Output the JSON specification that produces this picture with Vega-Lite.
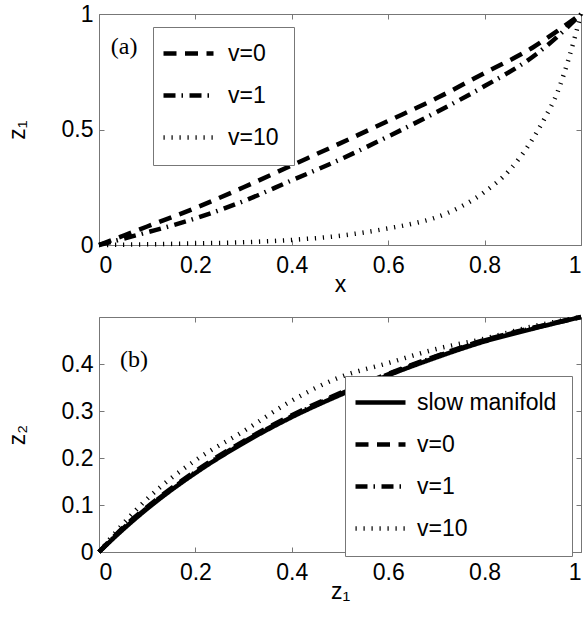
{
  "$schema": "https://vega.github.io/schema/vega-lite/v6.json",
  "background": "white",
  "padding": {"left": 5, "top": 2, "right": 0, "bottom": 0},
  "spacing": 72,
  "bounds": "flush",
  "config": {
    "font": "Liberation Sans",
    "view": {"stroke": "#777", "strokeWidth": 1},
    "axis": {
      "domain": false,
      "grid": false,
      "ticks": true,
      "tickSize": -5,
      "tickColor": "#777",
      "labelFont": "Liberation Sans",
      "labelFontSize": 23,
      "labelColor": "black",
      "titleFont": "Liberation Sans",
      "titleFontSize": 23,
      "titleFontWeight": "normal",
      "titleColor": "black"
    },
    "legend": {
      "orient": "none",
      "symbolType": "M-10,0H10",
      "symbolSize": 25,
      "symbolStrokeWidth": 4.5,
      "symbolStrokeColor": "black",
      "symbolOffset": 9,
      "labelFont": "Liberation Sans",
      "labelFontSize": 23,
      "labelColor": "black",
      "fillColor": "white",
      "strokeColor": "#777",
      "padding": 15,
      "rowPadding": 18
    }
  },
  "datasets": {
    "profiles": [
      {"x": 0, "z": 0, "v": "v=0"},
      {"x": 0.1, "z": 0.08, "v": "v=0"},
      {"x": 0.2, "z": 0.16, "v": "v=0"},
      {"x": 0.3, "z": 0.25, "v": "v=0"},
      {"x": 0.4, "z": 0.345, "v": "v=0"},
      {"x": 0.5, "z": 0.44, "v": "v=0"},
      {"x": 0.6, "z": 0.537, "v": "v=0"},
      {"x": 0.7, "z": 0.635, "v": "v=0"},
      {"x": 0.8, "z": 0.745, "v": "v=0"},
      {"x": 0.9, "z": 0.855, "v": "v=0"},
      {"x": 0.95, "z": 0.925, "v": "v=0"},
      {"x": 1, "z": 1, "v": "v=0"},
      {"x": 0, "z": 0, "v": "v=1"},
      {"x": 0.1, "z": 0.055, "v": "v=1"},
      {"x": 0.2, "z": 0.115, "v": "v=1"},
      {"x": 0.3, "z": 0.19, "v": "v=1"},
      {"x": 0.4, "z": 0.28, "v": "v=1"},
      {"x": 0.5, "z": 0.37, "v": "v=1"},
      {"x": 0.6, "z": 0.47, "v": "v=1"},
      {"x": 0.7, "z": 0.575, "v": "v=1"},
      {"x": 0.8, "z": 0.688, "v": "v=1"},
      {"x": 0.9, "z": 0.815, "v": "v=1"},
      {"x": 0.95, "z": 0.9, "v": "v=1"},
      {"x": 1, "z": 1, "v": "v=1"},
      {"x": 0, "z": 0, "v": "v=10"},
      {"x": 0.1, "z": 0.003, "v": "v=10"},
      {"x": 0.2, "z": 0.007, "v": "v=10"},
      {"x": 0.3, "z": 0.012, "v": "v=10"},
      {"x": 0.4, "z": 0.022, "v": "v=10"},
      {"x": 0.5, "z": 0.04, "v": "v=10"},
      {"x": 0.6, "z": 0.072, "v": "v=10"},
      {"x": 0.65, "z": 0.092, "v": "v=10"},
      {"x": 0.7, "z": 0.12, "v": "v=10"},
      {"x": 0.75, "z": 0.165, "v": "v=10"},
      {"x": 0.8, "z": 0.23, "v": "v=10"},
      {"x": 0.85, "z": 0.32, "v": "v=10"},
      {"x": 0.9, "z": 0.46, "v": "v=10"},
      {"x": 0.925, "z": 0.55, "v": "v=10"},
      {"x": 0.95, "z": 0.655, "v": "v=10"},
      {"x": 0.975, "z": 0.81, "v": "v=10"},
      {"x": 1, "z": 1, "v": "v=10"}
    ],
    "phase": [
      {"z1": 0, "z2": 0, "curve": "slow manifold"},
      {"z1": 0.05, "z2": 0.048, "curve": "slow manifold"},
      {"z1": 0.1, "z2": 0.092, "curve": "slow manifold"},
      {"z1": 0.2, "z2": 0.168, "curve": "slow manifold"},
      {"z1": 0.3, "z2": 0.232, "curve": "slow manifold"},
      {"z1": 0.4, "z2": 0.287, "curve": "slow manifold"},
      {"z1": 0.5, "z2": 0.334, "curve": "slow manifold"},
      {"z1": 0.6, "z2": 0.376, "curve": "slow manifold"},
      {"z1": 0.7, "z2": 0.414, "curve": "slow manifold"},
      {"z1": 0.8, "z2": 0.448, "curve": "slow manifold"},
      {"z1": 0.9, "z2": 0.475, "curve": "slow manifold"},
      {"z1": 1, "z2": 0.5, "curve": "slow manifold"},
      {"z1": 0, "z2": 0, "curve": "v=0"},
      {"z1": 0.05, "z2": 0.052, "curve": "v=0"},
      {"z1": 0.1, "z2": 0.096, "curve": "v=0"},
      {"z1": 0.2, "z2": 0.172, "curve": "v=0"},
      {"z1": 0.3, "z2": 0.236, "curve": "v=0"},
      {"z1": 0.4, "z2": 0.291, "curve": "v=0"},
      {"z1": 0.5, "z2": 0.338, "curve": "v=0"},
      {"z1": 0.6, "z2": 0.379, "curve": "v=0"},
      {"z1": 0.7, "z2": 0.417, "curve": "v=0"},
      {"z1": 0.8, "z2": 0.451, "curve": "v=0"},
      {"z1": 0.9, "z2": 0.477, "curve": "v=0"},
      {"z1": 1, "z2": 0.5, "curve": "v=0"},
      {"z1": 0, "z2": 0, "curve": "v=1"},
      {"z1": 0.05, "z2": 0.05, "curve": "v=1"},
      {"z1": 0.1, "z2": 0.094, "curve": "v=1"},
      {"z1": 0.2, "z2": 0.17, "curve": "v=1"},
      {"z1": 0.3, "z2": 0.234, "curve": "v=1"},
      {"z1": 0.4, "z2": 0.289, "curve": "v=1"},
      {"z1": 0.5, "z2": 0.336, "curve": "v=1"},
      {"z1": 0.6, "z2": 0.378, "curve": "v=1"},
      {"z1": 0.7, "z2": 0.416, "curve": "v=1"},
      {"z1": 0.8, "z2": 0.45, "curve": "v=1"},
      {"z1": 0.9, "z2": 0.476, "curve": "v=1"},
      {"z1": 1, "z2": 0.5, "curve": "v=1"},
      {"z1": 0, "z2": 0, "curve": "v=10"},
      {"z1": 0.05, "z2": 0.06, "curve": "v=10"},
      {"z1": 0.1, "z2": 0.113, "curve": "v=10"},
      {"z1": 0.2, "z2": 0.195, "curve": "v=10"},
      {"z1": 0.3, "z2": 0.257, "curve": "v=10"},
      {"z1": 0.4, "z2": 0.322, "curve": "v=10"},
      {"z1": 0.5, "z2": 0.372, "curve": "v=10"},
      {"z1": 0.6, "z2": 0.402, "curve": "v=10"},
      {"z1": 0.7, "z2": 0.432, "curve": "v=10"},
      {"z1": 0.8, "z2": 0.454, "curve": "v=10"},
      {"z1": 0.9, "z2": 0.48, "curve": "v=10"},
      {"z1": 1, "z2": 0.5, "curve": "v=10"}
    ]
  },
  "vconcat": [
    {
      "width": 482,
      "height": 231,
      "layer": [
        {
          "data": {"name": "profiles"},
          "mark": {"type": "line", "color": "black", "strokeWidth": 4.5, "strokeCap": "butt", "interpolate": "monotone"},
          "encoding": {
            "x": {
              "field": "x", "type": "quantitative",
              "scale": {"domain": [0, 1], "nice": false},
              "axis": {"orient": "bottom", "values": [0, 0.2, 0.4, 0.6, 0.8, 1], "format": "~g", "labelPadding": 14, "title": "x", "titlePadding": -4}
            },
            "y": {
              "field": "z", "type": "quantitative",
              "scale": {"domain": [0, 1], "nice": false},
              "axis": {"orient": "left", "values": [0, 0.5, 1], "format": "~g", "labelPadding": 11, "title": "z₁", "titlePadding": 32}
            },
            "strokeDash": {
              "field": "v", "type": "nominal",
              "scale": {"domain": ["v=0", "v=1", "v=10"], "range": [[13, 8.5], [12, 6, 1.5, 6.5], [1.2, 6.8]]},
              "legend": {"title": null, "legendX": 54, "legendY": 13, "labelOffset": 28}
            }
          }
        },
        {
          "data": {"values": [{"tag": "(a)"}]},
          "mark": {"type": "text", "font": "Liberation Serif", "fontSize": 24, "color": "black", "align": "center", "baseline": "middle"},
          "encoding": {
            "x": {"datum": 0.052, "type": "quantitative", "axis": {"orient": "top", "labels": false, "title": null, "values": [0, 0.2, 0.4, 0.6, 0.8, 1]}},
            "y": {"datum": 0.857, "type": "quantitative", "axis": {"orient": "right", "labels": false, "title": null, "values": [0, 0.5, 1]}},
            "text": {"field": "tag"}
          }
        }
      ],
      "resolve": {"axis": {"x": "independent", "y": "independent"}}
    },
    {
      "width": 482,
      "height": 235,
      "layer": [
        {
          "data": {"name": "phase"},
          "mark": {"type": "line", "color": "black", "strokeWidth": 4.5, "strokeCap": "butt", "interpolate": "monotone"},
          "encoding": {
            "x": {
              "field": "z1", "type": "quantitative",
              "scale": {"domain": [0, 1], "nice": false},
              "axis": {"orient": "bottom", "values": [0, 0.2, 0.4, 0.6, 0.8, 1], "format": "~g", "labelPadding": 14, "title": "z₁", "titlePadding": -4}
            },
            "y": {
              "field": "z2", "type": "quantitative",
              "scale": {"domain": [0, 0.5], "nice": false},
              "axis": {"orient": "left", "values": [0, 0.1, 0.2, 0.3, 0.4], "format": "~g", "labelPadding": 11, "title": "z₂", "titlePadding": 32}
            },
            "strokeDash": {
              "field": "curve", "type": "nominal",
              "scale": {"domain": ["slow manifold", "v=0", "v=1", "v=10"], "range": [[1, 0], [13, 8.5], [12, 6, 1.5, 6.5], [1.2, 6.8]]},
              "legend": {"title": null, "legendX": 246, "legendY": 59, "labelOffset": 25, "labelExpr": "datum.label + '  '"}
            }
          }
        },
        {
          "data": {"values": [{"tag": "(b)"}]},
          "mark": {"type": "text", "font": "Liberation Serif", "fontSize": 24, "color": "black", "align": "center", "baseline": "middle"},
          "encoding": {
            "x": {"datum": 0.0727, "type": "quantitative", "axis": {"orient": "top", "labels": false, "title": null, "values": [0, 0.2, 0.4, 0.6, 0.8, 1]}},
            "y": {"datum": 0.409, "type": "quantitative", "axis": {"orient": "right", "labels": false, "title": null, "values": [0, 0.1, 0.2, 0.3, 0.4]}},
            "text": {"field": "tag"}
          }
        }
      ],
      "resolve": {"axis": {"x": "independent", "y": "independent"}}
    }
  ],
  "resolve": {"scale": {"x": "independent", "y": "independent", "strokeDash": "independent"}, "legend": {"strokeDash": "independent"}}
}
